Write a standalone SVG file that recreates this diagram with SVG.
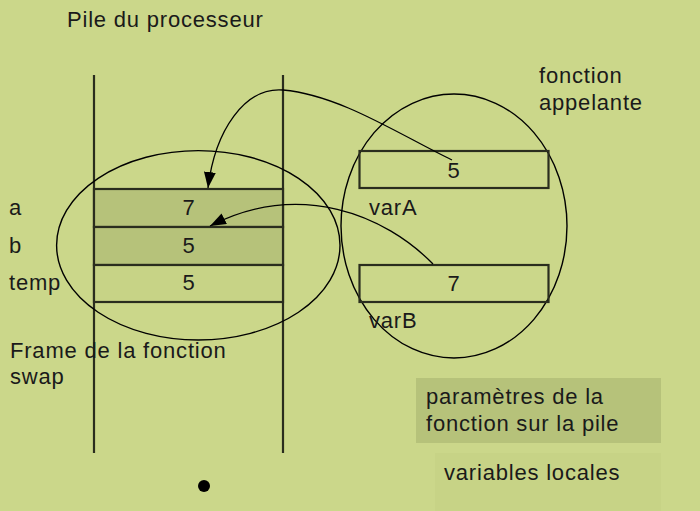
<svg xmlns="http://www.w3.org/2000/svg" width="700" height="511" viewBox="0 0 700 511">
<defs>
<style>
text{font-family:"Liberation Sans",Arial,sans-serif;font-size:22px;fill:#1a1a1a;letter-spacing:0.8px}
.mid{text-anchor:middle;letter-spacing:0}
.cell{stroke:#2a2d1e;stroke-width:2.2}
.ov{fill:none;stroke:#000;stroke-width:1.4}
.conn{fill:none;stroke:#000;stroke-width:1.3}
</style>
<marker id="ah" markerUnits="userSpaceOnUse" markerWidth="18" markerHeight="14" refX="16" refY="6" orient="auto">
<path d="M0,0 L16,6 L0,12 Z" fill="#000"/>
</marker>
</defs>
<rect x="0" y="0" width="700" height="511" fill="#cbd78a"/>
<text x="67" y="26.5">Pile du processeur</text>

<g id="legend-params">
<rect x="416" y="378" width="245" height="65" fill="#b6c27a"/>
<text x="426" y="403.5">paramètres de la</text>
<text x="426" y="431">fonction sur la pile</text>
</g>
<g id="legend-locals">
<rect x="435" y="453" width="226" height="58" fill="#c7d386"/>
<text x="444" y="479.5">variables locales</text>
</g>

<g id="stack">
<line x1="94" y1="75" x2="94" y2="453" class="cell"/>
<line x1="283" y1="75" x2="283" y2="453" class="cell"/>
</g>
<g id="cell-a">
<rect x="94" y="189" width="189" height="38" fill="#b6c27a" class="cell"/>
<text x="9" y="214.5">a</text>
<text x="188.5" y="215" class="mid">7</text>
</g>
<g id="cell-b">
<rect x="94" y="227" width="189" height="38" fill="#b6c27a" class="cell"/>
<text x="9" y="252.5">b</text>
<text x="188.5" y="252.5" class="mid">5</text>
</g>
<g id="cell-temp">
<rect x="94" y="265" width="189" height="37" fill="#c7d386" class="cell"/>
<text x="9" y="290">temp</text>
<text x="188.5" y="290" class="mid">5</text>
</g>
<g id="frame-swap">
<ellipse cx="198.3" cy="245.3" rx="141.7" ry="94.7" class="ov"/>
<text x="10" y="357.5">Frame de la fonction</text>
<text x="10" y="384">swap</text>
</g>
<g id="fonction-appelante">
<ellipse cx="454" cy="226" rx="113" ry="132" class="ov"/>
<text x="539" y="83">fonction</text>
<text x="539" y="110">appelante</text>
</g>
<g id="varA">
<rect x="359.5" y="151" width="189" height="37" fill="none" class="cell"/>
<text x="453.5" y="177.5" class="mid">5</text>
<text x="369" y="215">varA</text>
</g>
<g id="varB">
<rect x="359.5" y="265" width="189" height="37" fill="none" class="cell"/>
<text x="453.5" y="291" class="mid">7</text>
<text x="369" y="328">varB</text>
</g>

<g id="connectors">
<path d="M452,160 C400,135 340,95 283,90 C245,87 215,130 208,188" class="conn" marker-end="url(#ah)"/>
<path d="M433,264 C385,215 300,180 210,226" class="conn" marker-end="url(#ah)"/>
</g>

<circle cx="204" cy="486" r="6" fill="#000"/>
</svg>
